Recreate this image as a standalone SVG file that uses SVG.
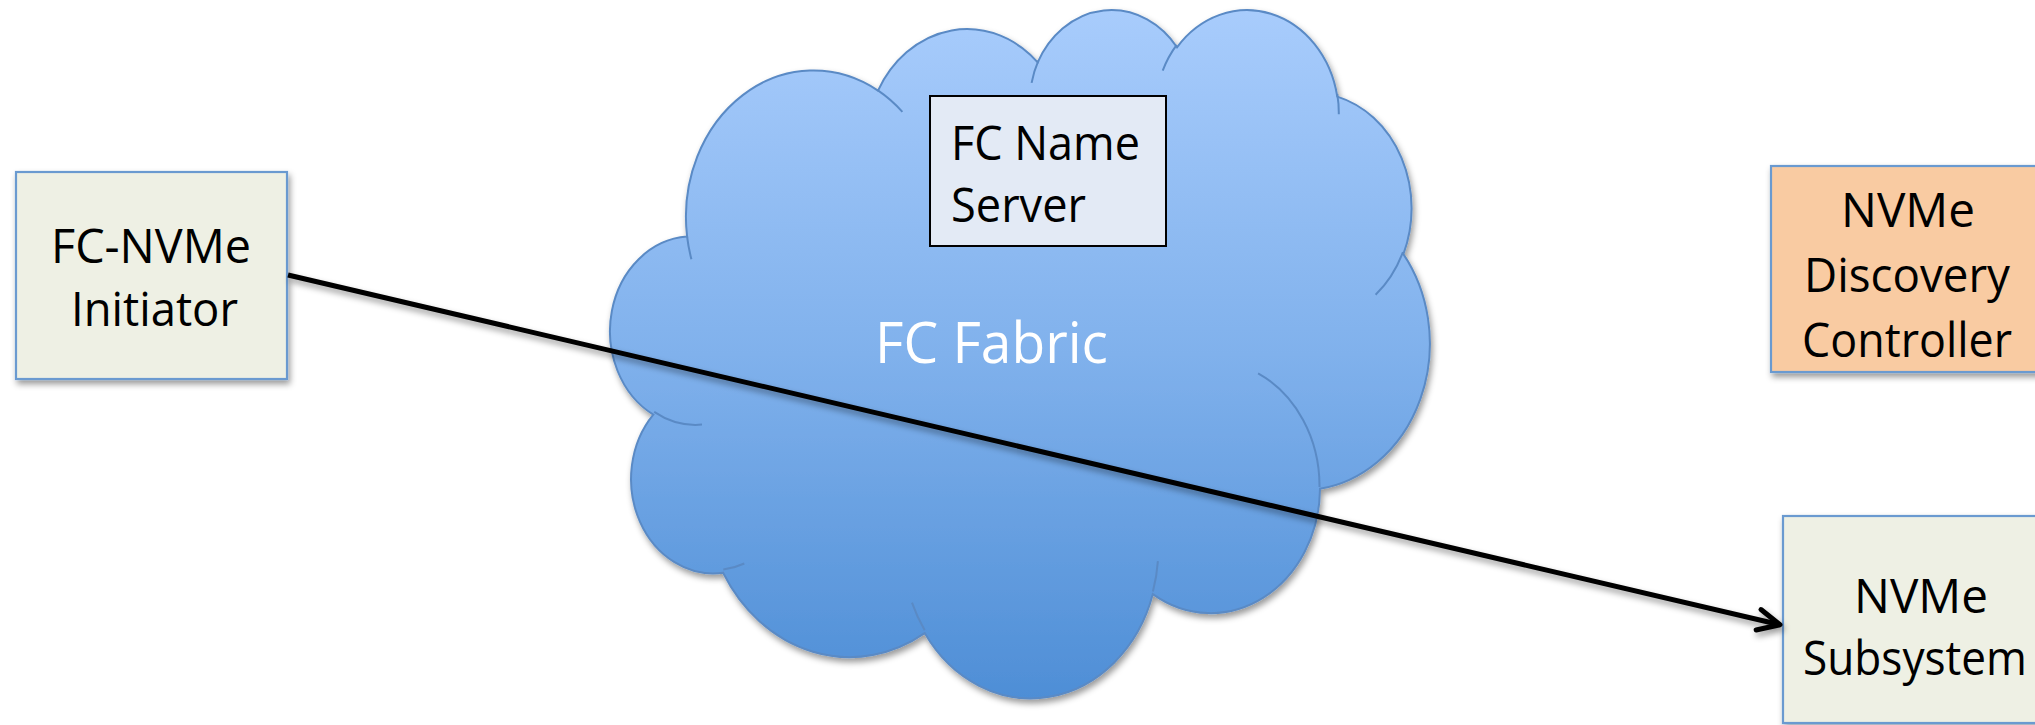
<svg xmlns="http://www.w3.org/2000/svg" width="2035" height="725" viewBox="0 0 2035 725">
  <style>
    .box { stroke: #6A9AD0; stroke-width: 2.2; }
    .label { font-family: "Open Sans", "Liberation Sans", sans-serif; font-size: 47px; fill: #000; }
    .cloud-line { fill: none; stroke: #5A8AC5; stroke-width: 2; }
  </style>
  <defs>
    <linearGradient id="cloudFill" x1="0" y1="0" x2="0" y2="1">
      <stop offset="0" stop-color="#A8CCFC"/>
      <stop offset="0.5" stop-color="#80B1EC"/>
      <stop offset="1" stop-color="#4E8ED6"/>
    </linearGradient>
    <filter id="shadow" x="-10%" y="-10%" width="120%" height="125%">
      <feGaussianBlur in="SourceAlpha" stdDeviation="3"/>
      <feOffset dx="1.5" dy="3.5" result="blur"/>
      <feFlood flood-color="#000" flood-opacity="0.4"/>
      <feComposite in2="blur" operator="in"/>
      <feMerge>
        <feMergeNode/>
        <feMergeNode in="SourceGraphic"/>
      </feMerge>
    </filter>
    <marker id="openArrow" markerUnits="userSpaceOnUse" markerWidth="40" markerHeight="40" viewBox="-30 -20 40 40" refX="0" refY="0" orient="auto">
      <path d="M -22 -10.5 L 0 0 L -22 10.5" fill="none" stroke="#000" stroke-width="5" stroke-linecap="round" stroke-linejoin="round"/>
    </marker>
  </defs>

  <rect width="2035" height="725" fill="#FFFFFF"/>

  <!-- FC fabric cloud -->
  <g id="fc-fabric">
    <g filter="url(#shadow)">
      <path fill="url(#cloudFill)" stroke="#5A8AC5" stroke-width="2"
        d="M 687.1 236.6
           A 127.6 146.4 0 0 1 878.0 90.6
           A 100.7 115.7 0 0 1 1037.7 62.4
           A 82.5 94.7 0 0 1 1177.0 47.3
           A 91.7 105.0 0 0 1 1337.3 96.6
           A 100.7 115.8 0 0 1 1403.4 254.1
           A 128.0 146.8 0 0 1 1320.0 488.8
           A 109.3 125.3 0 0 1 1152.8 594.1
           A 127.5 146.8 0 0 1 924.7 633.1
           A 145.8 167.9 0 0 1 723.1 572.7
           A 82.4 94.3 0 0 1 653.3 414.6
           A 82.1 94.7 0 0 1 687.1 236.6 Z"/>
    </g>
    <path class="cloud-line"
      d="M 702.0 424.6 A 82.1 94.7 0 0 1 654.2 411.9
         M 744.3 563.5 A 82.4 94.3 0 0 1 723.3 569.6
         M 924.7 630.2 A 127.5 146.8 0 0 1 912.0 602.6
         M 1157.9 561.1 A 127.5 146.8 0 0 1 1152.9 591.5
         M 1258.1 373.3 A 109.3 125.3 0 0 1 1319.5 486.9
         M 1402.9 252.2 A 100.7 115.8 0 0 1 1375.6 294.8
         M 1337.3 94.1 A 91.7 105.0 0 0 1 1338.8 114.2
         M 1162.7 70.6 A 91.7 105.0 0 0 1 1176.7 44.9
         M 1031.6 82.9 A 82.5 94.7 0 0 1 1038.4 60.7
         M 877.9 90.4 A 127.6 146.4 0 0 1 902.4 111.9
         M 691.4 259.2 A 127.6 146.4 0 0 1 687.1 236.6"/>
    <text x="875" y="363" font-family="'Open Sans', 'Liberation Sans', sans-serif" font-size="57" fill="#FFFFFF" textLength="233" lengthAdjust="spacingAndGlyphs">FC Fabric</text>
  </g>

  <!-- name server inside the fabric -->
  <g id="fc-name-server">
    <rect x="930" y="96" width="236" height="150" fill="#E3EAF5" stroke="#000" stroke-width="2"/>
    <text class="label" x="951" y="160" textLength="189" lengthAdjust="spacingAndGlyphs">FC Name</text>
    <text class="label" x="951" y="222" textLength="135" lengthAdjust="spacingAndGlyphs">Server</text>
  </g>

  <!-- initiator -->
  <g id="fc-nvme-initiator">
    <rect class="box" x="16" y="172" width="271" height="207" fill="#EEF0E4" filter="url(#shadow)"/>
    <text class="label" x="51" y="263" textLength="200" lengthAdjust="spacingAndGlyphs">FC-NVMe</text>
    <text class="label" x="71" y="326" textLength="167" lengthAdjust="spacingAndGlyphs">Initiator</text>
  </g>

  <!-- discovery controller -->
  <g id="nvme-discovery-controller">
    <rect class="box" x="1771" y="166" width="271" height="206" fill="#F9CBA2" filter="url(#shadow)"/>
    <text class="label" x="1841" y="227" textLength="134" lengthAdjust="spacingAndGlyphs">NVMe</text>
    <text class="label" x="1804" y="292" textLength="206" lengthAdjust="spacingAndGlyphs">Discovery</text>
    <text class="label" x="1802" y="357" textLength="210" lengthAdjust="spacingAndGlyphs">Controller</text>
  </g>

  <!-- subsystem -->
  <g id="nvme-subsystem">
    <rect class="box" x="1783" y="516" width="276" height="207" fill="#EEF0E4" filter="url(#shadow)"/>
    <text class="label" x="1854" y="613" textLength="134" lengthAdjust="spacingAndGlyphs">NVMe</text>
    <text class="label" x="1803" y="675" font-size="44" textLength="224" lengthAdjust="spacingAndGlyphs">Subsystem</text>
  </g>

  <!-- connectors -->
  <g id="connectors" filter="url(#shadow)">
    <line x1="288" y1="275" x2="1780" y2="624.8" stroke="#000" stroke-width="5" marker-end="url(#openArrow)"/>
  </g>
</svg>
